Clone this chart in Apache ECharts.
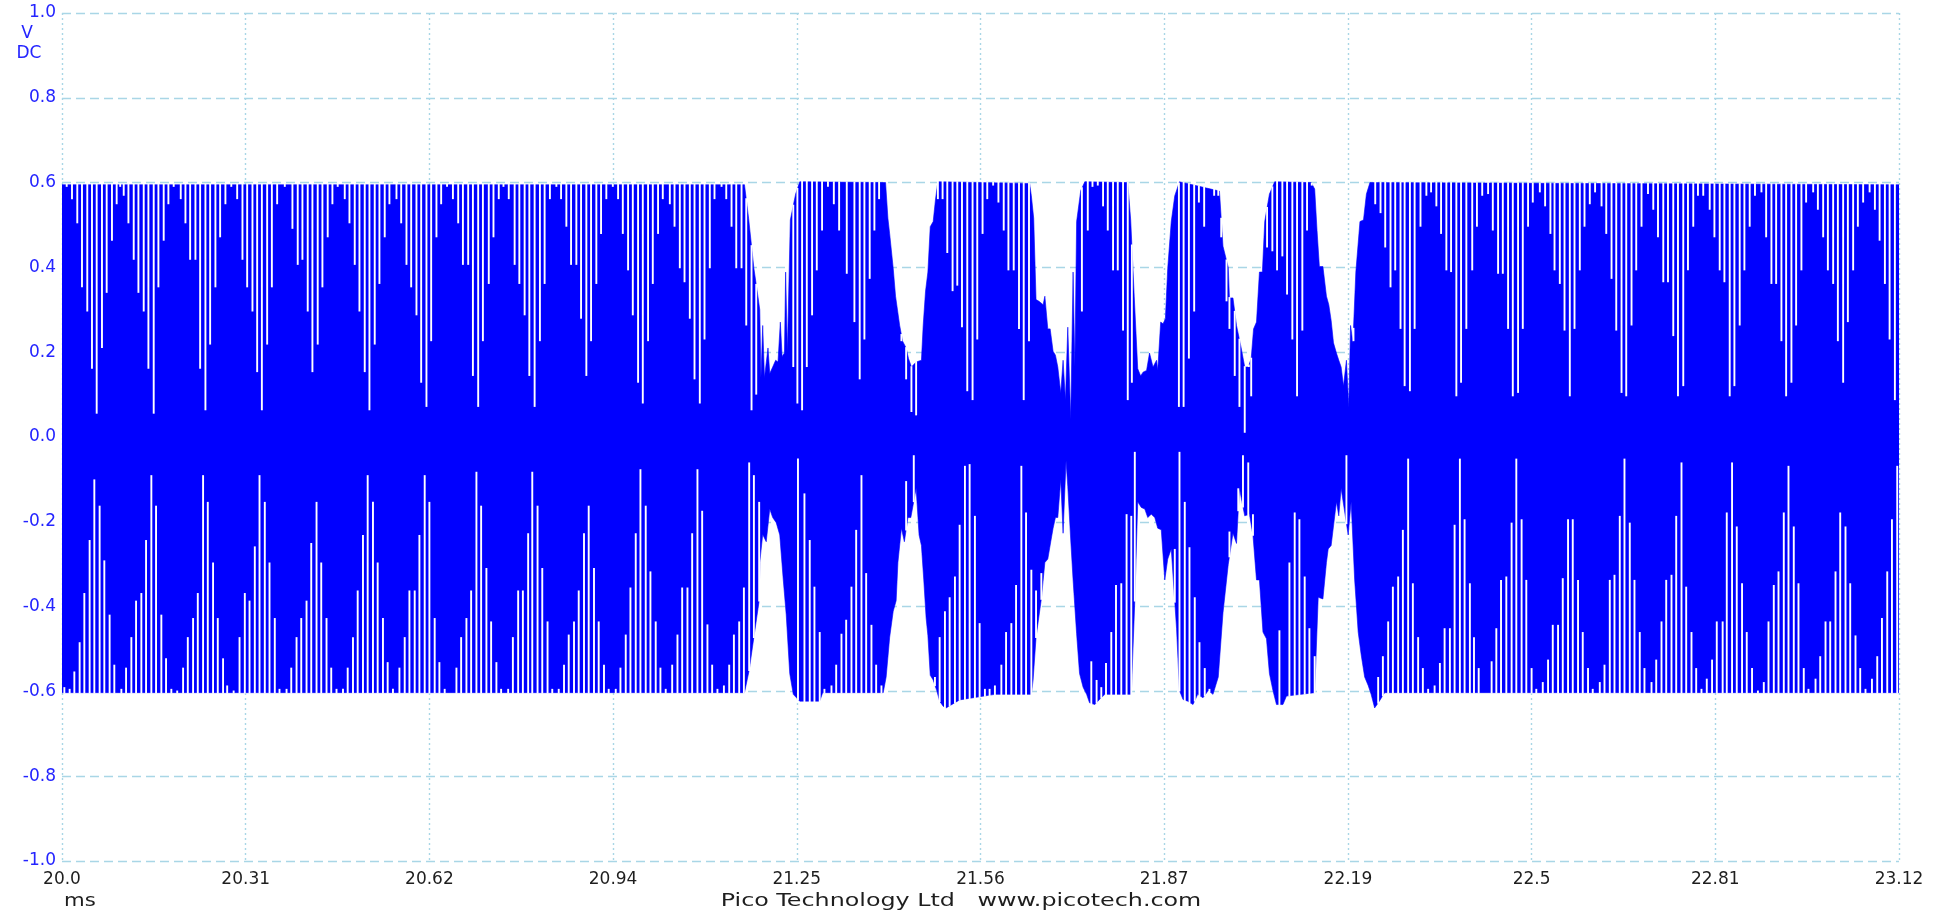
<!DOCTYPE html>
<html>
<head>
<meta charset="utf-8">
<script src="https://cdn.jsdelivr.net/npm/echarts@6/dist/echarts.min.js"></script>
<style>
html,body{margin:0;padding:0;background:#ffffff;}
#chart{width:1956px;height:915px;}
</style>
</head>
<body>
<div id="chart"></div>
<script>
// ---- tick labels ----
const xTickLabels = ['20.0','20.31','20.62','20.94','21.25','21.56','21.87','22.19','22.5','22.81','23.12'];
const yTickLabels = ['-1.0','-0.8','-0.6','-0.4','-0.2','0.0','0.2','0.4','0.6','0.8','1.0'];

// ---- outline of the trace (ms, V) ----
const upperEnvelope = [
[20.000,0.595],[21.161,0.595],[21.168,0.516],[21.177,0.398],[21.184,0.330],[21.187,0.300],[21.189,0.140],
[21.192,0.263],[21.195,0.140],[21.201,0.210],[21.204,0.150],[21.209,0.165],[21.214,0.181],[21.218,0.177],
[21.222,0.271],[21.225,0.190],[21.229,0.198],[21.231,0.389],[21.234,0.200],[21.239,0.512],[21.248,0.573],
[21.255,0.602],[21.401,0.600],[21.405,0.516],[21.408,0.479],[21.414,0.398],[21.418,0.332],[21.425,0.263],
[21.430,0.226],[21.436,0.210],[21.440,0.185],[21.445,0.165],[21.453,0.177],[21.462,0.181],[21.465,0.263],
[21.469,0.344],[21.473,0.389],[21.477,0.496],[21.482,0.508],[21.486,0.561],[21.490,0.602],[21.646,0.598],
[21.649,0.569],[21.653,0.516],[21.657,0.324],[21.662,0.320],[21.669,0.312],[21.672,0.332],[21.677,0.255],
[21.681,0.255],[21.686,0.202],[21.690,0.193],[21.694,0.165],[21.699,0.104],[21.703,0.181],[21.707,0.087],
[21.711,0.259],[21.716,0.042],[21.720,0.389],[21.723,0.165],[21.726,0.508],[21.733,0.581],[21.740,0.602],
[21.813,0.600],[21.818,0.512],[21.824,0.332],[21.830,0.161],[21.835,0.144],[21.839,0.153],[21.845,0.157],
[21.850,0.198],[21.856,0.165],[21.862,0.181],[21.864,0.157],[21.869,0.271],[21.873,0.267],[21.877,0.279],
[21.881,0.398],[21.887,0.508],[21.893,0.569],[21.901,0.602],[21.969,0.580],[21.975,0.450],[21.984,0.400],
[21.986,0.328],[21.992,0.328],[21.998,0.263],[22.006,0.210],[22.012,0.165],[22.018,0.165],[22.023,0.185],
[22.027,0.255],[22.032,0.271],[22.037,0.389],[22.042,0.389],[22.046,0.508],[22.054,0.573],[22.063,0.602],
[22.125,0.600],[22.131,0.585],[22.135,0.487],[22.139,0.402],[22.145,0.402],[22.151,0.332],[22.155,0.312],
[22.159,0.275],[22.163,0.222],[22.168,0.198],[22.172,0.181],[22.176,0.165],[22.180,0.120],[22.185,0.181],
[22.189,0.070],[22.192,0.263],[22.196,0.222],[22.201,0.389],[22.208,0.508],[22.214,0.512],[22.219,0.573],
[22.225,0.600],[23.125,0.595]
];
const lowerEnvelope = [
[20.000,-0.603],[21.161,-0.603],[21.169,-0.550],[21.177,-0.472],[21.186,-0.386],[21.187,-0.296],[21.192,-0.230],
[21.198,-0.247],[21.204,-0.170],[21.209,-0.190],[21.215,-0.202],[21.221,-0.231],[21.227,-0.337],[21.232,-0.419],
[21.238,-0.558],[21.244,-0.607],[21.255,-0.623],[21.289,-0.623],[21.294,-0.603],[21.397,-0.603],[21.402,-0.566],
[21.408,-0.472],[21.414,-0.411],[21.419,-0.386],[21.422,-0.296],[21.428,-0.215],[21.433,-0.247],[21.439,-0.190],
[21.444,-0.190],[21.453,-0.121],[21.458,-0.231],[21.462,-0.256],[21.466,-0.337],[21.470,-0.427],[21.473,-0.468],
[21.477,-0.562],[21.482,-0.573],[21.488,-0.598],[21.493,-0.623],[21.499,-0.635],[21.504,-0.639],[21.527,-0.620],
[21.587,-0.607],[21.649,-0.607],[21.652,-0.573],[21.657,-0.472],[21.666,-0.382],[21.672,-0.296],[21.677,-0.288],
[21.682,-0.247],[21.686,-0.215],[21.690,-0.190],[21.694,-0.190],[21.699,-0.100],[21.703,-0.227],[21.708,-0.056],
[21.711,-0.117],[21.716,-0.243],[21.720,-0.337],[21.726,-0.464],[21.731,-0.558],[21.737,-0.590],[21.743,-0.607],
[21.748,-0.627],[21.757,-0.631],[21.765,-0.619],[21.774,-0.607],[21.819,-0.607],[21.825,-0.386],[21.830,-0.153],
[21.836,-0.166],[21.842,-0.170],[21.847,-0.190],[21.853,-0.182],[21.859,-0.190],[21.864,-0.215],[21.870,-0.219],
[21.876,-0.337],[21.881,-0.288],[21.887,-0.264],[21.896,-0.451],[21.901,-0.598],[21.907,-0.619],[21.915,-0.623],
[21.924,-0.631],[21.932,-0.607],[21.941,-0.615],[21.950,-0.598],[21.958,-0.607],[21.967,-0.566],[21.975,-0.415],
[21.984,-0.300],[21.992,-0.227],[21.998,-0.251],[22.003,-0.121],[22.012,-0.186],[22.020,-0.182],[22.026,-0.231],
[22.032,-0.337],[22.037,-0.337],[22.043,-0.460],[22.049,-0.476],[22.054,-0.558],[22.060,-0.598],[22.066,-0.631],
[22.077,-0.631],[22.083,-0.611],[22.131,-0.603],[22.137,-0.378],[22.145,-0.382],[22.151,-0.296],[22.154,-0.264],
[22.159,-0.256],[22.168,-0.153],[22.172,-0.186],[22.176,-0.121],[22.179,-0.149],[22.188,-0.231],[22.193,-0.153],
[22.199,-0.337],[22.205,-0.460],[22.210,-0.513],[22.216,-0.566],[22.222,-0.586],[22.227,-0.607],[22.233,-0.639],
[22.241,-0.623],[22.250,-0.603],[23.125,-0.603]
];

// ---- white gaps: [time ms, level the gap reaches, V] ----
const topStripes = [
[20.008,0.590],[20.017,0.561],[20.026,0.504],[20.034,0.353],[20.043,0.296],[20.051,0.161],[20.059,0.055],[20.068,0.210],
[20.076,0.340],[20.085,0.463],[20.093,0.549],[20.099,0.590],[20.105,0.569],[20.113,0.504],[20.122,0.418],[20.130,0.340],
[20.139,0.296],[20.147,0.161],[20.156,0.055],[20.164,0.353],[20.173,0.463],[20.181,0.549],[20.190,0.590],[20.202,0.561],
[20.210,0.504],[20.218,0.418],[20.227,0.418],[20.235,0.161],[20.244,0.063],[20.252,0.218],[20.261,0.353],[20.269,0.471],
[20.278,0.549],[20.288,0.590],[20.298,0.561],[20.307,0.418],[20.315,0.353],[20.324,0.296],[20.332,0.153],[20.340,0.063],
[20.349,0.218],[20.357,0.353],[20.366,0.549],[20.379,0.590],
[20.392,0.491],[20.401,0.406],[20.409,0.418],[20.418,0.296],[20.426,0.153],[20.435,0.218],[20.443,0.353],[20.452,0.471],
[20.460,0.549],[20.469,0.590],[20.481,0.561],[20.489,0.504],[20.498,0.406],[20.506,0.296],[20.515,0.153],[20.523,0.063],
[20.532,0.218],[20.540,0.361],[20.549,0.471],[20.557,0.549],[20.569,0.561],[20.577,0.504],[20.586,0.406],[20.594,0.353],
[20.603,0.287],[20.611,0.128],[20.620,0.071],[20.628,0.226],[20.637,0.471],[20.645,0.549],[20.655,0.590],[20.665,0.561],
[20.674,0.504],[20.682,0.406],[20.691,0.406],[20.699,0.144],[20.708,0.071],[20.716,0.226],[20.726,0.361],[20.734,0.471],
[20.743,0.561],[20.751,0.590],[20.760,0.561],[20.770,0.406],[20.778,0.361],
[20.787,0.287],[20.795,0.144],[20.804,0.071],[20.813,0.226],[20.821,0.361],[20.830,0.561],[20.841,0.590],[20.849,0.561],
[20.858,0.496],[20.866,0.406],[20.875,0.406],[20.883,0.279],[20.892,0.144],[20.900,0.226],[20.909,0.361],[20.917,0.479],
[20.926,0.561],[20.937,0.590],[20.946,0.561],[20.954,0.479],[20.963,0.393],[20.971,0.287],[20.980,0.128],[20.988,0.079],
[20.997,0.226],[21.005,0.361],[21.014,0.479],[21.022,0.561],[21.034,0.549],[21.042,0.496],[21.051,0.398],[21.059,0.365],
[21.068,0.279],[21.076,0.136],[21.085,0.079],[21.093,0.230],[21.102,0.398],[21.110,0.561],[21.122,0.590],[21.130,0.561],
[21.139,0.496],[21.147,0.398],[21.156,0.398],[21.164,0.263],[21.173,0.063],[21.181,0.100],
[21.244,0.165],[21.251,0.079],[21.259,0.063],[21.267,0.165],[21.276,0.287],[21.284,0.393],[21.293,0.487],[21.303,0.590],
[21.313,0.549],[21.322,0.487],[21.335,0.385],[21.348,0.271],[21.357,0.136],[21.365,0.230],[21.374,0.373],[21.382,0.487],
[21.390,0.561],[21.428,0.226],[21.436,0.136],[21.445,0.059],[21.453,0.051],[21.490,0.561],[21.498,0.561],[21.506,0.434],
[21.515,0.344],[21.523,0.357],[21.531,0.259],[21.540,0.108],[21.549,0.087],[21.557,0.230],[21.566,0.479],[21.574,0.561],
[21.584,0.593],
[21.593,0.553],[21.602,0.487],[21.610,0.393],[21.619,0.393],[21.628,0.255],[21.636,0.087],[21.645,0.226],[21.735,0.296],
[21.745,0.487],[21.753,0.590],[21.762,0.593],[21.771,0.544],[21.779,0.487],[21.788,0.393],[21.796,0.393],[21.805,0.251],
[21.813,0.087],[21.820,0.128],[21.900,0.071],[21.908,0.071],[21.917,0.185],[21.926,0.296],[21.934,0.553],[21.943,0.496],
[21.951,0.589],[21.960,0.569],[21.967,0.569],[21.972,0.471],[21.981,0.320],
[21.986,0.255],[21.995,0.144],[22.003,0.071],[22.012,0.010],[22.019,0.165],[22.023,0.096],[22.050,0.447],[22.059,0.438],
[22.067,0.393],[22.076,0.426],[22.084,0.336],[22.093,0.230],[22.101,0.096],[22.110,0.251],[22.118,0.487],[22.126,0.593],
[22.197,0.226],[22.234,0.549],[22.243,0.528],[22.251,0.447],[22.260,0.353],[22.268,0.393],[22.277,0.255],[22.284,0.120],
[22.293,0.108],[22.301,0.255],[22.311,0.496],[22.321,0.569],[22.329,0.577],[22.338,0.544],[22.346,0.479],[22.355,0.393],
[22.363,0.389],[22.372,0.096],[22.380,0.128],[22.389,0.255],
[22.399,0.393],[22.407,0.496],[22.416,0.569],[22.426,0.573],[22.434,0.487],[22.443,0.385],[22.451,0.385],[22.460,0.255],
[22.468,0.096],[22.477,0.104],[22.485,0.255],[22.494,0.496],[22.502,0.553],[22.514,0.577],[22.523,0.544],[22.532,0.479],
[22.539,0.393],[22.548,0.361],[22.556,0.251],[22.565,0.096],[22.573,0.255],[22.582,0.393],[22.590,0.496],[22.599,0.549],
[22.608,0.577],[22.619,0.544],[22.627,0.479],[22.636,0.373],[22.644,0.251],[22.653,0.104],[22.661,0.096],[22.670,0.263],
[22.678,0.393],[22.687,0.496],[22.698,0.573],[22.707,0.536],[22.715,0.471],[22.724,0.365],[22.732,0.365],[22.741,0.238],
[22.749,0.096],[22.758,0.120],[22.766,0.393],[22.775,0.496],[22.783,0.569],[22.792,0.569],
[22.803,0.536],[22.811,0.471],[22.820,0.393],[22.828,0.365],[22.837,0.096],[22.845,0.120],[22.854,0.263],[22.862,0.393],
[22.871,0.496],[22.880,0.569],[22.891,0.577],[22.899,0.471],[22.908,0.361],[22.916,0.361],[22.925,0.226],[22.933,0.096],
[22.942,0.128],[22.950,0.263],[22.959,0.393],[22.967,0.553],[22.979,0.577],[22.987,0.536],[22.996,0.471],[23.004,0.393],
[23.013,0.361],[23.021,0.226],[23.030,0.128],[23.038,0.271],[23.047,0.393],[23.055,0.496],[23.064,0.553],[23.075,0.577],
[23.084,0.536],[23.092,0.463],[23.101,0.361],[23.109,0.230],[23.118,0.087]
];
const bottomStripes = [
[20.004,-0.590],[20.013,-0.594],[20.021,-0.553],[20.030,-0.484],[20.038,-0.368],[20.047,-0.243],[20.055,-0.100],[20.064,-0.162],
[20.072,-0.291],[20.081,-0.419],[20.089,-0.537],[20.101,-0.594],[20.109,-0.544],[20.118,-0.472],[20.126,-0.386],[20.135,-0.368],
[20.143,-0.243],[20.152,-0.090],[20.160,-0.162],[20.169,-0.419],[20.177,-0.522],[20.186,-0.594],[20.196,-0.598],[20.206,-0.544],
[20.214,-0.472],[20.223,-0.427],[20.231,-0.368],[20.240,-0.090],[20.248,-0.153],[20.257,-0.296],[20.265,-0.427],[20.274,-0.522],
[20.281,-0.586],[20.292,-0.598],[20.302,-0.472],[20.311,-0.368],[20.319,-0.386],[20.328,-0.258],[20.336,-0.090],[20.345,-0.153],
[20.353,-0.296],[20.362,-0.427],[20.370,-0.594],[20.382,-0.594],[20.390,-0.544],
[20.399,-0.472],[20.407,-0.427],[20.416,-0.386],[20.424,-0.250],[20.433,-0.153],[20.441,-0.296],[20.450,-0.427],[20.458,-0.544],
[20.467,-0.594],[20.478,-0.594],[20.486,-0.544],[20.495,-0.472],[20.503,-0.362],[20.512,-0.231],[20.520,-0.090],[20.529,-0.153],
[20.537,-0.296],[20.546,-0.427],[20.554,-0.531],[20.563,-0.594],[20.574,-0.544],[20.583,-0.472],[20.591,-0.362],[20.600,-0.362],
[20.608,-0.231],[20.617,-0.090],[20.625,-0.153],[20.634,-0.427],[20.642,-0.531],[20.651,-0.594],[20.671,-0.544],[20.679,-0.472],
[20.688,-0.427],[20.696,-0.362],[20.705,-0.082],[20.713,-0.162],[20.722,-0.309],[20.730,-0.435],[20.739,-0.531],[20.747,-0.594],
[20.759,-0.594],[20.767,-0.472],[20.776,-0.362],[20.784,-0.362],[20.793,-0.227],
[20.800,-0.082],[20.809,-0.162],[20.817,-0.309],[20.826,-0.435],[20.834,-0.594],[20.845,-0.594],[20.854,-0.537],[20.862,-0.466],
[20.871,-0.435],[20.879,-0.362],[20.888,-0.227],[20.896,-0.162],[20.905,-0.309],[20.913,-0.435],[20.922,-0.537],[20.930,-0.594],
[20.942,-0.594],[20.950,-0.544],[20.959,-0.466],[20.967,-0.355],[20.976,-0.227],[20.984,-0.076],[20.993,-0.162],[21.001,-0.317],
[21.010,-0.435],[21.018,-0.544],[21.027,-0.594],[21.038,-0.537],[21.047,-0.466],[21.055,-0.355],[21.064,-0.355],[21.072,-0.227],
[21.081,-0.076],[21.089,-0.174],[21.098,-0.442],[21.106,-0.537],[21.115,-0.594],[21.126,-0.586],[21.135,-0.537],[21.143,-0.466],
[21.152,-0.435],[21.160,-0.355],[21.169,-0.060],[21.177,-0.090],[21.186,-0.153],
[21.252,-0.051],[21.263,-0.133],[21.272,-0.243],[21.280,-0.353],[21.289,-0.460],[21.297,-0.594],[21.309,-0.586],[21.317,-0.537],
[21.326,-0.464],[21.334,-0.431],[21.343,-0.353],[21.351,-0.219],[21.360,-0.090],[21.368,-0.321],[21.377,-0.443],[21.385,-0.537],
[21.394,-0.586],[21.436,-0.104],[21.449,-0.043],[21.485,-0.566],[21.493,-0.472],[21.502,-0.411],[21.510,-0.378],[21.519,-0.329],
[21.527,-0.207],[21.536,-0.068],[21.544,-0.064],[21.553,-0.186],[21.561,-0.439],[21.570,-0.594],[21.578,-0.594],[21.587,-0.586],
[21.598,-0.537],[21.606,-0.460],[21.615,-0.439],[21.623,-0.349],[21.632,-0.068],[21.640,-0.178],[21.649,-0.313],[21.657,-0.362],
[21.666,-0.321],[21.723,-0.460],[21.751,-0.529],[21.760,-0.573],[21.768,-0.590],[21.776,-0.533],[21.785,-0.460],[21.793,-0.349],
[21.802,-0.345],[21.811,-0.182],[21.819,-0.186],[21.825,-0.035],[21.884,-0.337],[21.893,-0.264],[21.901,-0.035],[21.910,-0.153],
[21.918,-0.260],[21.927,-0.378],[21.935,-0.484],[21.944,-0.545],[21.952,-0.594],[21.961,-0.594],[21.969,-0.537],[21.978,-0.411],
[21.986,-0.223],
[22.001,-0.121],[22.009,-0.043],[22.018,-0.060],[22.026,-0.182],[22.071,-0.456],[22.088,-0.296],[22.097,-0.178],[22.105,-0.194],
[22.114,-0.329],[22.122,-0.451],[22.131,-0.517],[22.185,-0.043],[22.239,-0.566],[22.247,-0.517],[22.256,-0.435],[22.264,-0.353],
[22.273,-0.329],[22.281,-0.219],[22.290,-0.051],[22.298,-0.345],[22.307,-0.472],[22.315,-0.545],[22.324,-0.594],[22.335,-0.586],
[22.344,-0.533],[22.352,-0.451],[22.361,-0.451],[22.369,-0.207],[22.378,-0.051],[22.386,-0.194],[22.395,-0.345],
[22.402,-0.472],[22.410,-0.545],[22.432,-0.529],[22.440,-0.451],[22.448,-0.337],[22.457,-0.329],[22.466,-0.202],[22.474,-0.051],
[22.483,-0.194],[22.491,-0.337],[22.500,-0.545],[22.508,-0.594],[22.519,-0.578],[22.528,-0.525],[22.536,-0.443],[22.545,-0.443],
[22.553,-0.333],[22.562,-0.194],[22.570,-0.194],[22.579,-0.337],[22.587,-0.460],[22.596,-0.545],[22.604,-0.594],[22.616,-0.578],
[22.624,-0.537],[22.633,-0.337],[22.641,-0.325],[22.650,-0.186],[22.658,-0.051],[22.667,-0.202],[22.675,-0.337],[22.684,-0.460],
[22.692,-0.545],[22.704,-0.578],[22.712,-0.525],[22.721,-0.435],[22.729,-0.337],[22.738,-0.325],[22.746,-0.186],[22.755,-0.060],
[22.763,-0.353],[22.772,-0.460],[22.780,-0.545],[22.789,-0.594],
[22.798,-0.570],[22.807,-0.525],[22.815,-0.435],[22.825,-0.435],[22.832,-0.178],[22.841,-0.060],[22.849,-0.211],[22.858,-0.345],
[22.866,-0.460],[22.875,-0.545],[22.885,-0.598],[22.895,-0.578],[22.903,-0.435],[22.912,-0.349],[22.920,-0.317],[22.929,-0.178],
[22.937,-0.068],[22.946,-0.211],[22.954,-0.345],[22.963,-0.545],[22.971,-0.594],[22.983,-0.570],[22.991,-0.517],[23.000,-0.435],
[23.008,-0.435],[23.017,-0.317],[23.025,-0.178],[23.034,-0.211],[23.042,-0.345],[23.051,-0.468],[23.059,-0.545],[23.068,-0.594],
[23.079,-0.570],[23.088,-0.517],[23.096,-0.427],[23.105,-0.317],[23.113,-0.194],[23.122,-0.068]
];

// ---- styles ----
const TRACE_COLOR = '#0000ff';
const STRIPE_COLOR = '#ffffff';
const STRIPE_WIDTH = 1.9;
const GRID_COLOR = '#a9d6e6';
const Y_LABEL_COLOR = '#2424ff';
const X_LABEL_COLOR = '#1e1e1e';
const FONT = '"DejaVu Sans", "Liberation Sans", sans-serif';
const X_MIN = 20, X_MAX = 23.125, X_STEP = 0.3125;

function envAt(env, t) {
  if (t <= env[0][0]) return env[0][1];
  for (let i = 1; i < env.length; i++) {
    if (t <= env[i][0]) {
      const a = env[i - 1], b = env[i];
      const f = (t - a[0]) / (b[0] - a[0] || 1);
      return a[1] + f * (b[1] - a[1]);
    }
  }
  return env[env.length - 1][1];
}

function stripeRenderer(env, dir) {
  return function (params, api) {
    const t = api.value(0), v = api.value(1);
    const e = envAt(env, t);
    if (dir > 0 ? v >= e : v <= e) return null;
    const a = api.coord([t, v]);
    const b = api.coord([t, e + dir * 0.002]);
    return {
      type: 'rect',
      shape: { x: a[0] - STRIPE_WIDTH / 2, y: Math.min(a[1], b[1]), width: STRIPE_WIDTH, height: Math.abs(a[1] - b[1]) },
      style: { fill: STRIPE_COLOR }
    };
  };
}

const chart = echarts.init(document.getElementById('chart'), null, { renderer: 'canvas' });
chart.setOption({
  animation: false,
  backgroundColor: '#ffffff',
  grid: { left: 62, right: 57, top: 13, bottom: 54, containLabel: false, outerBoundsMode: 'none' },
  xAxis: {
    type: 'value', min: X_MIN, max: X_MAX, interval: X_STEP,
    axisLine: { show: false }, axisTick: { show: false },
    axisLabel: {
      color: X_LABEL_COLOR, fontFamily: FONT, fontSize: 17, margin: 10,
      showMinLabel: true, showMaxLabel: true,
      formatter: v => xTickLabels[Math.round((v - X_MIN) / X_STEP)] || ''
    },
    splitLine: { show: true, lineStyle: { color: GRID_COLOR, width: 1.4, type: [2, 3] } }
  },
  yAxis: {
    type: 'value', min: -1, max: 1, interval: 0.2,
    axisLine: { show: false }, axisTick: { show: false },
    axisLabel: {
      color: Y_LABEL_COLOR, fontFamily: FONT, fontSize: 17, margin: 6,
      showMinLabel: true, showMaxLabel: true,
      formatter: v => yTickLabels[Math.round((v + 1) / 0.2)] || ''
    },
    splitLine: { show: true, lineStyle: { color: GRID_COLOR, width: 1.3, type: [9, 5] } }
  },
  series: [
    { type: 'line', data: upperEnvelope, symbol: 'none', silent: true, z: 2,
      lineStyle: { color: TRACE_COLOR, width: 0.6 },
      areaStyle: { color: TRACE_COLOR, opacity: 1, origin: 'auto' } },
    { type: 'line', data: lowerEnvelope, symbol: 'none', silent: true, z: 2,
      lineStyle: { color: TRACE_COLOR, width: 0.6 },
      areaStyle: { color: TRACE_COLOR, opacity: 1, origin: 'auto' } },
    { type: 'custom', data: topStripes, renderItem: stripeRenderer(upperEnvelope, 1),
      silent: true, z: 3, clip: true, progressive: 0, encode: { x: 0, y: 1 } },
    { type: 'custom', data: bottomStripes, renderItem: stripeRenderer(lowerEnvelope, -1),
      silent: true, z: 3, clip: true, progressive: 0, encode: { x: 0, y: 1 } }
  ],
  graphic: [
    { type: 'text', x: 27, y: 34, style: { text: 'V', fill: Y_LABEL_COLOR, fontFamily: FONT, fontSize: 17, align: 'center', verticalAlign: 'middle' } },
    { type: 'text', x: 29, y: 54, style: { text: 'DC', fill: Y_LABEL_COLOR, fontFamily: FONT, fontSize: 17, align: 'center', verticalAlign: 'middle' } },
    { type: 'text', x: 64, y: 902, scaleX: 1.25, style: { text: 'ms', fill: X_LABEL_COLOR, fontFamily: FONT, fontSize: 17, align: 'left', verticalAlign: 'middle' } },
    { type: 'text', x: 961, y: 902, scaleX: 1.4, style: { text: 'Pico Technology Ltd   www.picotech.com', fill: X_LABEL_COLOR, fontFamily: FONT, fontSize: 17, align: 'center', verticalAlign: 'middle' } }
  ]
});
</script>
</body>
</html>
